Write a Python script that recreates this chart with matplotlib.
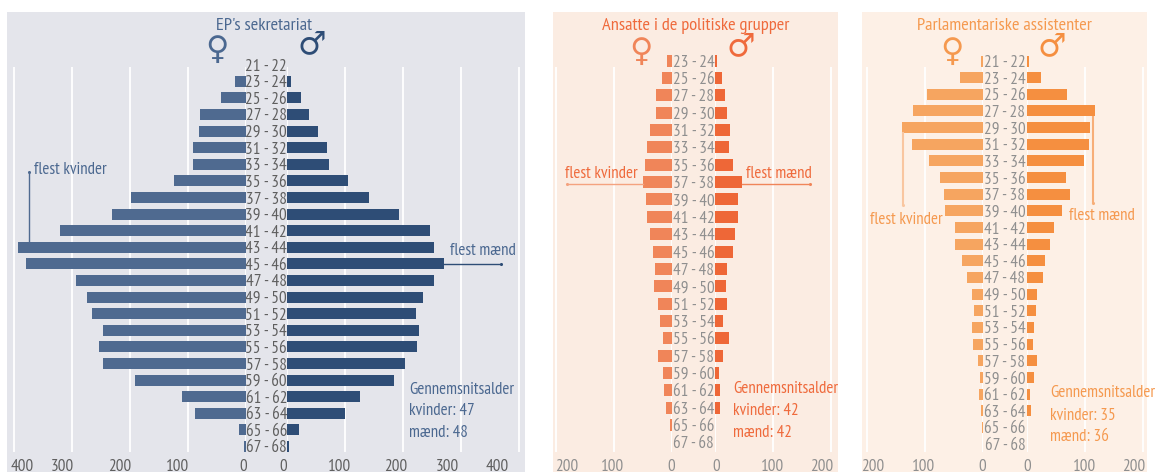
import matplotlib
matplotlib.use('Agg')
import matplotlib.pyplot as plt
from matplotlib import font_manager as fm
from matplotlib.transforms import ScaledTranslation

W, H = 1156, 472
have = set(f.name for f in fm.fontManager.ttflist)
FONT = [f for f in ['PT Sans Narrow', 'Barlow Condensed', 'Roboto Condensed', 'Open Sans', 'DejaVu Sans'] if f in have]
plt.rcParams['font.family'] = FONT
FS_TITLE = 13.2
FS_NOTE = 12.2
FS_AGE = 12.3

ages = ['21 - 22', '23 - 24', '25 - 26', '27 - 28', '29 - 30', '31 - 32', '33 - 34', '35 - 36',
        '37 - 38', '39 - 40', '41 - 42', '43 - 44', '45 - 46', '47 - 48', '49 - 50', '51 - 52',
        '53 - 54', '55 - 56', '57 - 58', '59 - 60', '61 - 62', '63 - 64', '65 - 66', '67 - 68']

ep_women = [0, 18, 43, 78, 80, 90, 91, 123, 197, 231, 319, 393, 379, 293, 274, 264, 245, 252, 245, 190, 110, 87, 12, 2]
ep_men = [0, 7, 24, 38, 53, 69, 72, 106, 141, 193, 246, 254, 270, 253, 234, 222, 227, 224, 203, 184, 125, 100, 21, 3]

# no 21 - 22 row in this one
grp_women = [9, 17, 28, 28, 38, 43, 47, 50, 45, 43, 38, 33, 29, 31, 24, 21, 16, 24, 16, 14, 10, 3, 0]
grp_men = [3, 11, 17, 20, 25, 24, 30, 46, 39, 39, 34, 30, 20, 18, 20, 13, 24, 13, 6, 8, 8, 0, 0]

apa_women = [4, 40, 97, 121, 140, 123, 94, 75, 68, 66, 49, 49, 37, 28, 20, 16, 20, 18, 9, 6, 7, 4, 2, 0]
apa_men = [4, 25, 70, 118, 109, 107, 99, 68, 75, 61, 47, 40, 32, 28, 18, 16, 13, 11, 18, 13, 6, 7.5, 0, 0]

ticks_ep = [0, 100, 200, 300, 400]
ticks_small = [0, 100, 200]

fig = plt.figure(figsize=(W / 100, H / 100), dpi=100, facecolor='white')


def px_axes(x0, y0, x1, y1):
    ax = fig.add_axes([x0 / W, 1 - y1 / H, (x1 - x0) / W, (y1 - y0) / H])
    ax.patch.set_alpha(0)
    for s in ax.spines.values():
        s.set_visible(False)
    return ax


def ftext(x, y, s, **kw):
    kw.setdefault('ha', 'left')
    kw.setdefault('va', 'center')
    return fig.text(x / W, 1 - y / H, s, **kw)


def fline(xs, ys, color, lw=1.0):
    fig.add_artist(plt.Line2D([x / W for x in xs], [1 - y / H for y in ys], color=color, lw=lw,
                              marker='o', ms=1.2, markevery=[1]))


def shift_labels(ax, ticks, zero, sign, centres):
    for lab, t, c in zip(ax.get_xticklabels(), ticks, centres):
        dx = c - (zero + sign * t * 0.58)
        lab.set_transform(lab.get_transform() + ScaledTranslation(dx / 100, 0, fig.dpi_scale_trans))


def panel(x0, x1, zl, zr, ages_p, women, men, ticks, first, step, barh_px, cols, label_cols,
          lab_left, lab_right, right_end):
    bg = px_axes(x0, 12, x1, H)
    bg.set_xticks([])
    bg.set_yticks([])
    bg.patch.set_alpha(1)
    bg.set_facecolor(cols[0])

    # axes reach half a row above the first one so its tick label is drawn,
    # the white grid lines start lower than that
    grid_top, bot = 67, 452
    top = first - step / 2
    grid_from = (grid_top - first) / step
    grid_to = (bot - first) / step
    rows = list(range(len(ages_p)))

    al = px_axes(x0, top, zl, bot)
    ar = px_axes(zr, top, right_end, bot)
    for ax, vals, c in ((al, women, cols[1]), (ar, men, cols[2])):
        ax.barh(rows, vals, height=barh_px / step, color=c, zorder=3)
        ax.vlines(ticks, grid_from, grid_to, color='white', lw=1.3, zorder=1)
        ax.set_xticks(ticks)
        ax.set_xticklabels([str(t) for t in ticks], fontsize=FS_AGE, color=label_cols)
        ax.tick_params(axis='x', length=0, pad=5)
    ar.set_yticks([])
    al.yaxis.tick_right()
    al.set_yticks(rows)
    al.set_yticklabels(ages_p, fontsize=FS_AGE, color=label_cols, ha='center')
    al.tick_params(axis='y', length=0, pad=(zr - zl) / 2 * 0.72)
    al.set_xlim((zl - x0) / 0.58, 0)
    ar.set_xlim(0, (right_end - zr) / 0.58)
    al.set_ylim(grid_to, -0.5)
    ar.set_ylim(grid_to, -0.5)
    shift_labels(al, ticks, zl, -1, lab_left)
    shift_labels(ar, ticks, zr, 1, lab_right)


# EP's sekretariat
c_ep = '#4b6890'
panel(7, 525, 245.5, 287, ages, ep_women, ep_men, ticks_ep, 64.7, 16.6, 11,
      ('#e4e5eb', '#4f6a90', '#2e4d76'), '#5f5f5f',
      [243, 178, 120, 62, 22], [283, 340, 396, 447, 497], 519.5)
ftext(264, 26, "EP's sekretariat", color=c_ep, fontsize=FS_TITLE, ha='center')
ftext(217, 50, '♀', color=c_ep, fontsize=23, ha='center', family='DejaVu Sans')
ftext(312, 45, '♂', color='#2e4d76', fontsize=23, ha='center', family='DejaVu Sans')
fline([29, 29], [248, 172], '#4f6a90')
ftext(34, 170, 'flest kvinder', color=c_ep, fontsize=FS_NOTE)
fline([444, 501], [264, 264], '#2e4d76')
ftext(450, 251, 'flest mænd', color=c_ep, fontsize=FS_NOTE)
ftext(409, 390, 'Gennemsnitsalder', color=c_ep, fontsize=FS_NOTE)
ftext(409, 411, 'kvinder: 47', color=c_ep, fontsize=FS_NOTE)
ftext(409, 433, 'mænd: 48', color=c_ep, fontsize=FS_NOTE)

# Ansatte i de politiske grupper
c_grp = '#ef6a3c'
panel(553, 838, 672, 715.3, ages[1:], grp_women, grp_men, ticks_small, 60.7, 17.35, 12,
      ('#fbece2', '#f08559', '#ee6737'), '#8f8f8f',
      [671, 613, 567], [716, 773, 822], 831.5)
ftext(696, 26, 'Ansatte i de politiske grupper', color=c_grp, fontsize=FS_TITLE, ha='center')
ftext(641, 52, '♀', color='#f08559', fontsize=23, ha='center', family='DejaVu Sans')
ftext(741, 47, '♂', color=c_grp, fontsize=23, ha='center', family='DejaVu Sans')
fline([643, 567], [184, 184], '#f4a27f')
fline([742, 810], [184, 184], '#f08559')
ftext(565, 174, 'flest kvinder', color=c_grp, fontsize=FS_NOTE)
ftext(746, 174, 'flest mænd', color=c_grp, fontsize=FS_NOTE)
ftext(733, 389, 'Gennemsnitsalder', color=c_grp, fontsize=FS_NOTE)
ftext(733, 411, 'kvinder: 42', color=c_grp, fontsize=FS_NOTE)
ftext(733, 433, 'mænd: 42', color=c_grp, fontsize=FS_NOTE)

# Parlamentariske assistenter
c_apa = '#f5994f'
panel(862, 1147, 983.3, 1026.7, ages, apa_women, apa_men, ticks_small, 61, 16.65, 11,
      ('#fdf0e6', '#f6a560', '#f58f40'), '#8f8f8f',
      [982, 924, 873], [1027, 1085, 1134], 1143.5)
ftext(1004, 26, 'Parlamentariske assistenter', color=c_apa, fontsize=FS_TITLE, ha='center')
ftext(952, 52, '♀', color=c_apa, fontsize=23, ha='center', family='DejaVu Sans')
ftext(1052, 47, '♂', color='#f58f40', fontsize=23, ha='center', family='DejaVu Sans')
fline([903, 903], [133, 205], '#f9c6a0', lw=1.5)
fline([1093, 1093], [117, 203], '#f7ae78', lw=1.5)
ftext(870, 220, 'flest kvinder', color=c_apa, fontsize=FS_NOTE)
ftext(1069, 216, 'flest mænd', color=c_apa, fontsize=FS_NOTE)
ftext(1050, 393, 'Gennemsnitsalder', color=c_apa, fontsize=FS_NOTE)
ftext(1050, 416, 'kvinder: 35', color=c_apa, fontsize=FS_NOTE)
ftext(1050, 437, 'mænd: 36', color=c_apa, fontsize=FS_NOTE)

fig.savefig('out.png', dpi=100)
